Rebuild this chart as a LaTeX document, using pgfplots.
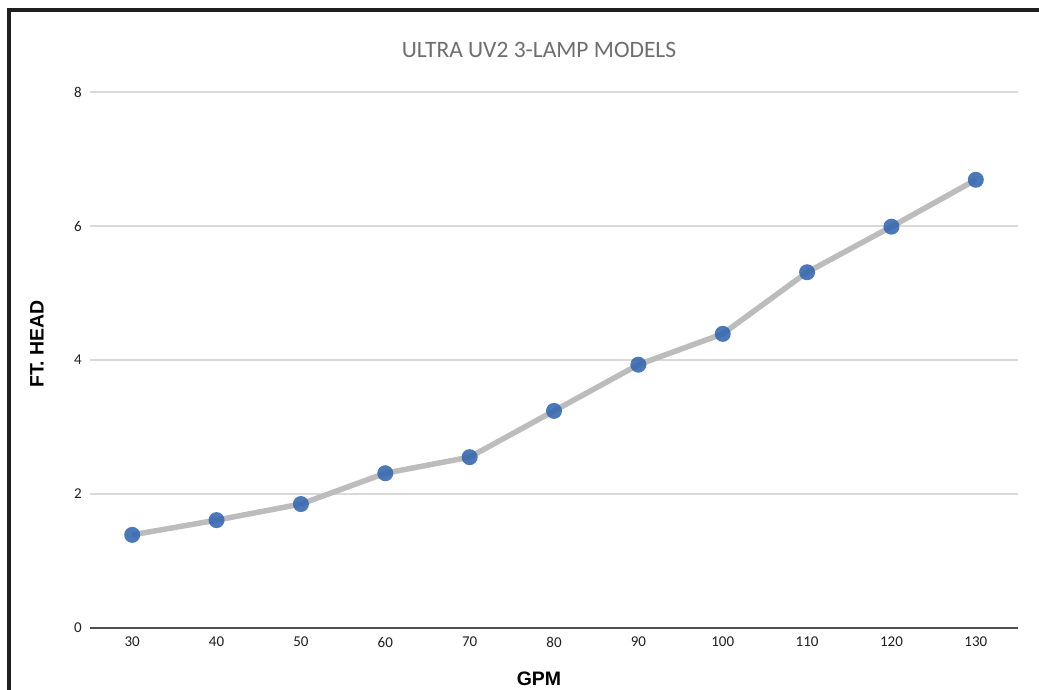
\documentclass[border=0pt]{standalone}
\usepackage{pgfplots}
\pgfplotsset{compat=1.18}
\usepackage{fontspec}
\setmainfont{Carlito}
\newfontfamily\labfont{Liberation Sans}
\definecolor{markblue}{RGB}{50,102,176}
\definecolor{linegray}{RGB}{188,188,188}
\definecolor{gridgray}{RGB}{217,217,217}
\definecolor{axisgray}{RGB}{80,80,80}
\definecolor{titlegray}{RGB}{110,110,110}
\begin{document}
\begin{tikzpicture}[x=1pt,y=1pt]
\useasboundingbox (0,0) rectangle (1039,689);
\fill[white] (0,0) rectangle (1039,689);
\draw[line width=4pt, color=black!88, line cap=rect] (8.5,-5) -- (8.5,679) -- (1045,679);
\begin{axis}[
  at={(90pt,61pt)}, anchor=south west,
  scale only axis, width=928pt, height=536pt,
  xmin=-0.5, xmax=10.5, ymin=0, ymax=8,
  xtick={0,1,2,3,4,5,6,7,8,9,10},
  xticklabels={30,40,50,60,70,80,90,100,110,120,130},
  ytick={2,4,6,8},
  extra y ticks={0},
  extra y tick style={grid style={draw=axisgray, line width=1.6pt}},
  ymajorgrids,
  grid style={draw=gridgray, line width=1.4pt},
  axis line style={draw=none},
  major tick length=0pt,
  /pgf/number format/assume math mode=true,
  tick label style={font=\fontsize{15}{17}\selectfont, color=black!88},
  yticklabel style={inner sep=0pt, xshift=-8pt},
  xticklabel style={inner sep=0pt, yshift=-9pt},
  clip=false,
]
\addplot[color=linegray, line width=5.5pt, line join=round, no marks]
  coordinates {(0,1.39) (1,1.61) (2,1.85) (3,2.31) (4,2.55) (5,3.24) (6,3.93) (7,4.39) (8,5.31) (9,5.99) (10,6.69)};
\addplot[only marks, mark=*, mark size=8pt,
  mark options={line width=0pt, draw=markblue, draw opacity=0, fill=markblue, fill opacity=0.88}]
  coordinates {(0,1.39) (1,1.61) (2,1.85) (3,2.31) (4,2.55) (5,3.24) (6,3.93) (7,4.39) (8,5.31) (9,5.99) (10,6.69)};
\end{axis}
\node[font=\fontsize{23.5}{26}\selectfont, color=titlegray] at (539,639) {ULTRA UV2 3-LAMP MODELS};
\node[font=\labfont\bfseries\fontsize{19.5}{22}\selectfont, rotate=90] at (37,345) {FT. HEAD};
\node[font=\labfont\bfseries\fontsize{19.5}{22}\selectfont] at (539,10) {GPM};
\end{tikzpicture}
\end{document}
